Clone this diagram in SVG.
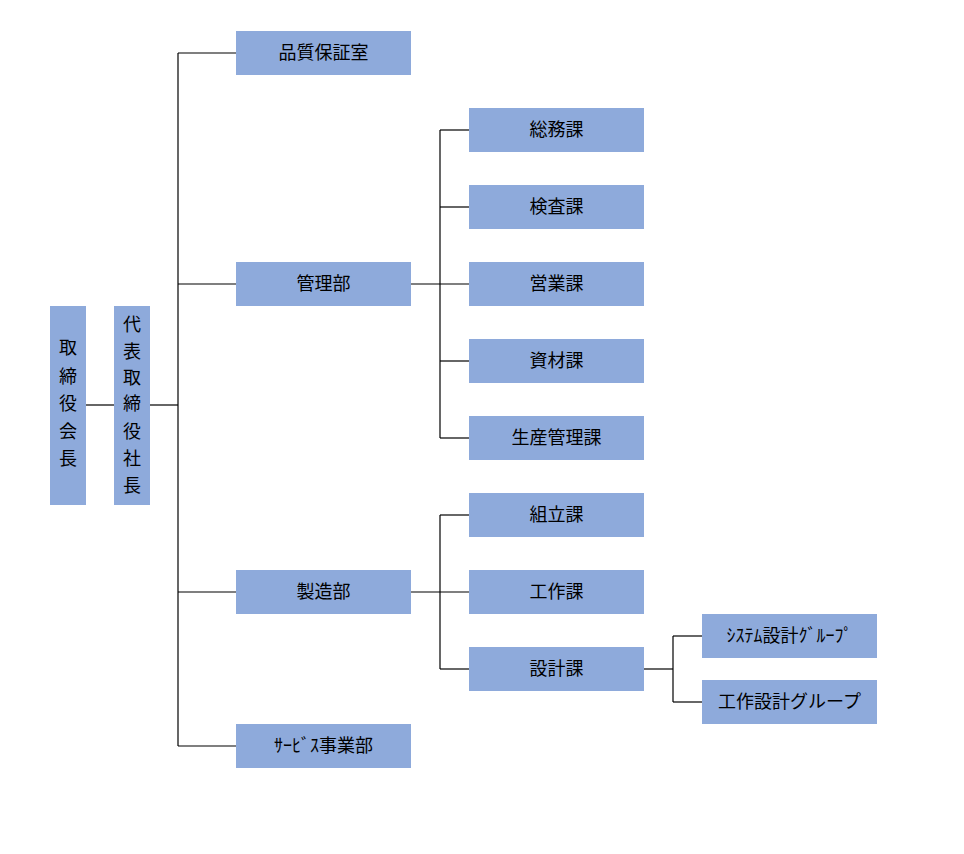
<svg xmlns="http://www.w3.org/2000/svg" width="964" height="854" viewBox="0 0 964 854">
<style>
.box{fill:#8eaadb;}
.t{font-family:"Noto Sans CJK JP","Noto Sans CJK SC",sans-serif;font-size:18px;fill:#000;text-anchor:middle;}
.ln{stroke:#000;stroke-width:1.2;fill:none;}
</style>
<rect width="964" height="854" fill="#fff"/>
<g id="connectors" class="ln">
<line x1="86" y1="405" x2="114" y2="405"/>
<line x1="150" y1="405" x2="178" y2="405"/>
<line x1="178" y1="53" x2="178" y2="746"/>
<line x1="178" y1="53" x2="236" y2="53"/>
<line x1="178" y1="284" x2="236" y2="284"/>
<line x1="178" y1="592" x2="236" y2="592"/>
<line x1="178" y1="746" x2="236" y2="746"/>
<line x1="411" y1="284" x2="469" y2="284"/>
<line x1="440" y1="130" x2="440" y2="438"/>
<line x1="440" y1="130" x2="469" y2="130"/>
<line x1="440" y1="207" x2="469" y2="207"/>
<line x1="440" y1="361" x2="469" y2="361"/>
<line x1="440" y1="438" x2="469" y2="438"/>
<line x1="411" y1="592" x2="469" y2="592"/>
<line x1="440" y1="515" x2="440" y2="669"/>
<line x1="440" y1="515" x2="469" y2="515"/>
<line x1="440" y1="669" x2="469" y2="669"/>
<line x1="644" y1="669" x2="673" y2="669"/>
<line x1="673" y1="636" x2="673" y2="702"/>
<line x1="673" y1="636" x2="702" y2="636"/>
<line x1="673" y1="702" x2="702" y2="702"/>
</g>
<g id="chairman"><rect class="box" x="50" y="306" width="36" height="199"/>
<text class="t" x="68" y="354">取</text><text class="t" x="68" y="383">締</text><text class="t" x="68" y="410">役</text><text class="t" x="68" y="438">会</text><text class="t" x="68" y="465">長</text></g>
<g id="president"><rect class="box" x="114" y="306" width="36" height="199"/>
<text class="t" x="132" y="331">代</text><text class="t" x="132" y="358">表</text><text class="t" x="132" y="384">取</text><text class="t" x="132" y="410">締</text><text class="t" x="132" y="438">役</text><text class="t" x="132" y="465">社</text><text class="t" x="132" y="492">長</text></g>
<g id="qa"><rect class="box" x="236" y="31" width="175" height="44"/><text class="t" x="323.5" y="59">品質保証室</text></g>
<g id="kanri"><rect class="box" x="236" y="262" width="175" height="44"/><text class="t" x="323.5" y="290">管理部</text></g>
<g id="seizo"><rect class="box" x="236" y="570" width="175" height="44"/><text class="t" x="323.5" y="598">製造部</text></g>
<g id="service"><rect class="box" x="236" y="724" width="175" height="44"/><text class="t" x="323.5" y="752">ｻｰﾋﾞｽ事業部</text></g>
<g id="somu"><rect class="box" x="469" y="108" width="175" height="44"/><text class="t" x="556.5" y="136">総務課</text></g>
<g id="kensa"><rect class="box" x="469" y="185" width="175" height="44"/><text class="t" x="556.5" y="213">検査課</text></g>
<g id="eigyo"><rect class="box" x="469" y="262" width="175" height="44"/><text class="t" x="556.5" y="290">営業課</text></g>
<g id="shizai"><rect class="box" x="469" y="339" width="175" height="44"/><text class="t" x="556.5" y="367">資材課</text></g>
<g id="seisan"><rect class="box" x="469" y="416" width="175" height="44"/><text class="t" x="556.5" y="444">生産管理課</text></g>
<g id="kumitate"><rect class="box" x="469" y="493" width="175" height="44"/><text class="t" x="556.5" y="521">組立課</text></g>
<g id="kosaku"><rect class="box" x="469" y="570" width="175" height="44"/><text class="t" x="556.5" y="598">工作課</text></g>
<g id="sekkei"><rect class="box" x="469" y="647" width="175" height="44"/><text class="t" x="556.5" y="675">設計課</text></g>
<g id="system"><rect class="box" x="702" y="614" width="175" height="44"/><text class="t" x="789.5" y="642">ｼｽﾃﾑ設計ｸﾞﾙｰﾌﾟ</text></g>
<g id="kosakusekkei"><rect class="box" x="702" y="680" width="175" height="44"/><text class="t" x="789.5" y="708">工作設計グループ</text></g>
</svg>
